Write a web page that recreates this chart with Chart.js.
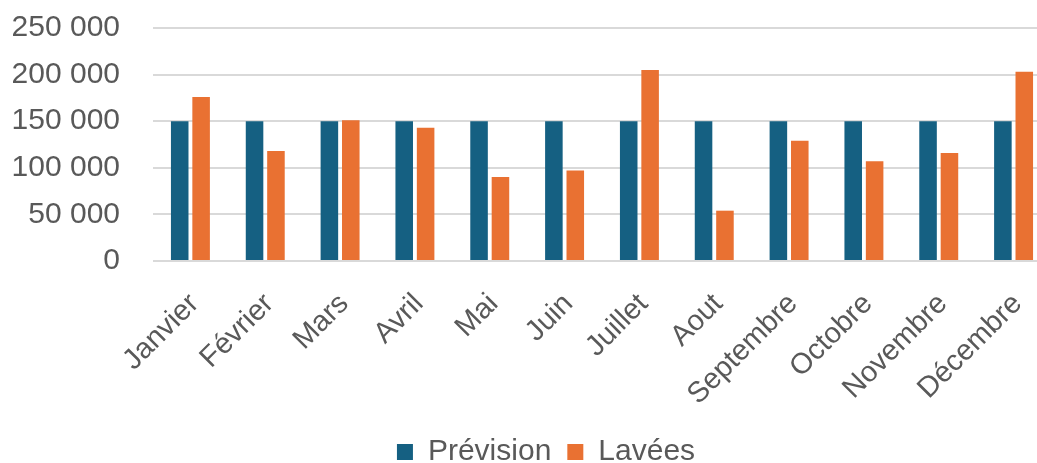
<!DOCTYPE html>
<html>
<head>
<meta charset="utf-8">
<script src="https://cdn.jsdelivr.net/npm/chart.js@4/dist/chart.umd.min.js"></script>
<style>
html,body{margin:0;padding:0;background:#fff;overflow:hidden;width:1037px;height:463px;}
#wrap{width:1060px;height:463px;}
</style>
</head>
<body>
<div id="wrap"><canvas id="c" width="1060" height="463"></canvas></div>
<script>
const categories = ['Janvier','Février','Mars','Avril','Mai','Juin','Juillet','Aout','Septembre','Octobre','Novembre','Décembre'];
const prevision = [150000,150000,150000,150000,150000,150000,150000,150000,150000,150000,150000,150000];
const lavees = [176000,118000,151000,143000,90000,97000,205000,54000,129000,107000,116000,203000];
const yTicks = [0,50000,100000,150000,200000,250000];
const seriesNames = ['Prévision','Lavées'];

const fmt = v => String(v).replace(/\B(?=(\d{3})+(?!\d))/g, ' ');
const FONT = "'Liberation Sans', Arial, sans-serif";
const TXT = '#595959';

const legendShift = {
  id: 'legendShift',
  afterLayout(chart) {
    if (chart.legend) { chart.legend.left += 41; }
  }
};

new Chart(document.getElementById('c'), {
  type: 'bar',
  data: {
    labels: categories,
    datasets: [
      {label: seriesNames[0], data: prevision, backgroundColor: '#156082', categoryPercentage: 0.572, barPercentage: 0.82},
      {label: seriesNames[1], data: lavees, backgroundColor: '#E97132', categoryPercentage: 0.572, barPercentage: 0.82}
    ]
  },
  plugins: [legendShift],
  options: {
    responsive: false,
    devicePixelRatio: 1,
    animation: false,
    layout: {padding: {left: 0, right: 9, top: 28, bottom: -14}},
    plugins: {
      legend: {
        position: 'bottom',
        labels: {boxWidth: 16, boxHeight: 16, padding: 16, color: TXT, font: {family: FONT, size: 30}}
      },
      tooltip: {enabled: false}
    },
    scales: {
      x: {
        grid: {display: false, drawTicks: false},
        border: {display: false},
        ticks: {autoSkip: false, minRotation: 45, maxRotation: 45, padding: 26, labelOffset: 4, color: TXT, font: {family: FONT, size: 29}},
        afterFit: s => { s.height = 160; s.paddingLeft = 0; s.paddingRight = 0; }
      },
      y: {
        min: 0, max: 250000,
        afterBuildTicks: s => { s.ticks = yTicks.map(v => ({value: v})); },
        grid: {color: '#d9d9d9', lineWidth: 2, drawTicks: false},
        border: {display: false},
        ticks: {padding: 33, color: TXT, font: {family: FONT, size: 30}, callback: v => fmt(v)},
        afterFit: s => { s.width = 153; s.paddingTop = 0; s.paddingBottom = 0; }
      }
    }
  }
});
</script>
</body>
</html>
